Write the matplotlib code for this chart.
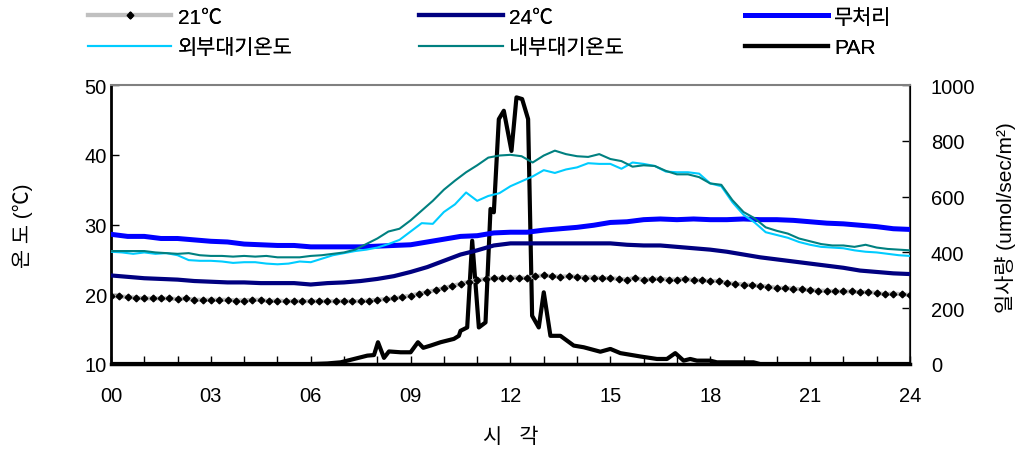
import numpy as np
import matplotlib
matplotlib.use("Agg")
import matplotlib.pyplot as plt
from matplotlib.ticker import MultipleLocator, FixedLocator

plt.rcParams['font.family'] = ['Liberation Sans Narrow', 'Liberation Sans', 'Noto Sans CJK KR', 'DejaVu Sans']

# ---- data ----
# 30-min series
t30 = np.arange(0, 24.01, 0.5)
untreated = [28.6, 28.3, 28.3, 28.0, 28.0, 27.8, 27.6, 27.5, 27.2, 27.1,
             27.0, 27.0, 26.8, 26.8, 26.8, 26.8, 26.9, 27.0, 27.1, 27.5,
             27.9, 28.3, 28.4, 28.8, 28.9, 28.9, 29.2, 29.4, 29.6, 29.9,
             30.3, 30.4, 30.7, 30.8, 30.7, 30.8, 30.7, 30.7, 30.8, 30.7,
             30.7, 30.6, 30.4, 30.2, 30.1, 29.9, 29.7, 29.4, 29.3]
set24 = [22.7, 22.5, 22.3, 22.2, 22.1, 21.9, 21.8, 21.7, 21.7, 21.6,
         21.6, 21.6, 21.4, 21.6, 21.7, 21.9, 22.2, 22.6, 23.2, 23.9,
         24.8, 25.7, 26.3, 27.0, 27.3, 27.3, 27.3, 27.3, 27.3, 27.3,
         27.3, 27.1, 27.0, 27.0, 26.8, 26.6, 26.4, 26.1, 25.7, 25.3,
         25.0, 24.7, 24.4, 24.1, 23.8, 23.4, 23.2, 23.0, 22.9]

# 15-min series
t15 = np.arange(0, 24.01, 0.25)
set21 = [19.7, 19.7, 19.6, 19.5, 19.4, 19.4, 19.4, 19.4, 19.3, 19.4, 19.2, 19.2,
         19.2, 19.2, 19.2, 19.1, 19.1, 19.2, 19.2, 19.0, 19.1, 19.0, 19.0, 19.0,
         19.0, 19.0, 19.0, 19.0, 19.0, 19.0, 19.0, 19.1, 19.2, 19.3, 19.4, 19.6,
         19.8, 20.1, 20.3, 20.6, 20.9, 21.2, 21.5, 21.8, 22.0, 22.2, 22.3, 22.3,
         22.4, 22.4, 22.3, 22.6, 22.7, 22.6, 22.5, 22.6, 22.5, 22.4, 22.4, 22.3,
         22.3, 22.2, 22.1, 22.4, 22.0, 22.2, 22.2, 22.1, 22.1, 22.2, 22.0, 22.0,
         21.9, 21.9, 21.6, 21.5, 21.4, 21.3, 21.2, 21.1, 20.9, 20.9, 20.8, 20.7,
         20.6, 20.5, 20.5, 20.4, 20.4, 20.4, 20.3, 20.3, 20.2, 20.0, 20.1, 20.0,
         19.9]

# 20-min series
t20 = np.linspace(0, 24, 73)
outside = [26.1, 26.0, 25.8, 26.0, 25.8, 25.9, 25.6, 24.9, 24.8, 24.8, 24.7, 24.5,
           24.6, 24.6, 24.4, 24.3, 24.4, 24.7, 24.6, 25.1, 25.6, 25.9, 26.2, 26.4,
           26.7, 27.2, 27.8, 29.0, 30.2, 30.1, 31.8, 32.9, 34.6, 33.4, 34.1, 34.5,
           35.5, 36.2, 36.9, 37.8, 37.4, 37.9, 38.2, 38.8, 38.7, 38.7, 38.0, 38.9,
           38.7, 38.4, 37.6, 37.5, 37.5, 37.3, 35.9, 35.5, 33.2, 31.4, 30.3, 28.9,
           28.5, 28.1, 27.5, 27.1, 26.8, 26.7, 26.6, 26.3, 26.1, 26.0, 25.8, 25.6,
           25.5]
inside = [26.2, 26.2, 26.2, 26.2, 26.0, 25.9, 25.8, 25.9, 25.6, 25.5, 25.5, 25.4,
          25.5, 25.4, 25.5, 25.3, 25.3, 25.3, 25.5, 25.6, 25.8, 26.0, 26.4, 27.2,
          28.0, 29.0, 29.4, 30.6, 32.0, 33.4, 35.0, 36.3, 37.5, 38.5, 39.6, 39.9,
          40.0, 39.8, 38.9, 39.9, 40.6, 40.1, 39.8, 39.7, 40.1, 39.4, 39.1, 38.3,
          38.5, 38.4, 37.7, 37.2, 37.2, 36.8, 35.9, 35.7, 33.5, 31.8, 30.9, 29.6,
          29.1, 28.7, 28.0, 27.6, 27.2, 27.0, 27.0, 26.8, 27.1, 26.7, 26.5, 26.4,
          26.3]

# PAR (umol/sec/m2)
t_par = [0, 6.0, 6.5, 6.9, 7.3, 7.7, 7.9, 8.02, 8.2, 8.35, 8.7, 9.0, 9.22, 9.38,
         9.6, 9.9, 10.3, 10.45, 10.5, 10.7, 10.85, 11.05, 11.25, 11.4, 11.5, 11.65,
         11.8, 12.03, 12.18, 12.35, 12.53, 12.65, 12.85, 13.0, 13.2, 13.5, 13.9,
         14.2, 14.7, 15.0, 15.3, 15.9, 16.4, 16.7, 16.95, 17.2, 17.4, 17.6, 18.0,
         18.2, 19.3, 19.5, 24]
par = [0, 0, 2, 6, 18, 30, 32, 78, 22, 45, 42, 42, 78, 58,
       66, 78, 90, 101, 119, 131, 442, 131, 149, 556, 544, 878,
       908, 764, 956, 950, 878, 173, 131, 257, 101, 101, 66,
       60, 44, 54, 39, 27, 18, 18, 39, 12, 18, 12, 12,
       6, 6, 0, 0]

xtick_labels = ['00', '03', '06', '09', '12', '15', '18', '21', '24']

# ---- figure ----
fig = plt.figure(figsize=(10.23, 4.52), dpi=100)
ax = fig.add_axes([0.1085, 0.1925, 0.781, 0.617])
ax2 = ax.twinx()

l21, = ax.plot(t15, set21, color='#C0C0C0', lw=3, marker='D', ms=3.4,
               mfc='black', mec='black', zorder=3)
l24, = ax.plot(t30, set24, color='#000080', lw=3, zorder=4)
lun, = ax.plot(t30, untreated, color='#0000FF', lw=3.6, zorder=4)
lout, = ax.plot(t20, outside, color='#00CCFF', lw=1.5, zorder=5)
lin, = ax.plot(t20, inside, color='#008080', lw=1.5, zorder=5)
lpar, = ax2.plot(t_par, par, color='black', lw=3, zorder=6)

ax.set_xlim(0, 24)
ax.set_ylim(10, 50)
ax2.set_ylim(0, 1000)
ax.xaxis.set_major_locator(FixedLocator(range(0, 25, 3)))
ax.xaxis.set_minor_locator(MultipleLocator(1))
ax.set_xticklabels(xtick_labels)
ax.yaxis.set_major_locator(MultipleLocator(10))
ax2.yaxis.set_major_locator(MultipleLocator(200))

for a in (ax, ax2):
    a.tick_params(which='both', direction='in', labelsize=14.5, length=6, width=1)
ax.tick_params(axis='x', pad=16)
ax.tick_params(axis='y', pad=3)
ax2.tick_params(axis='y', pad=15)

ax.spines['left'].set_linewidth(2)
ax.spines['bottom'].set_linewidth(2.5)
ax.spines['top'].set_color('#808080')
ax.spines['top'].set_linewidth(1.5)
ax2.spines['top'].set_visible(False)
ax2.spines['left'].set_visible(False)
ax2.spines['bottom'].set_visible(False)
ax2.spines['right'].set_color('#404040')
ax2.spines['right'].set_linewidth(1.5)
ax.set_zorder(ax2.get_zorder() + 1)
ax.patch.set_visible(False)

ax.set_ylabel('온 도 (℃)', fontsize=15, va='center')
ax.yaxis.set_label_coords(-0.111, 0.5)
ax2.set_ylabel('일사량 (umol/sec/m²)', fontsize=15, va='center', rotation=90)
ax2.yaxis.set_label_coords(1.119, 0.53)
ax.set_xlabel('시   각', fontsize=15, va='center')
ax.xaxis.set_label_coords(0.5, -0.258)

# legend: three columns placed where the reference has them
columns = [([l21, lout], ['21℃', '외부대기온도'], 0.086),
           ([l24, lin], ['24℃', '내부대기온도'], 0.410),
           ([lun, lpar], ['무처리', 'PAR'], 0.728)]
for hs, labs, xpos in columns:
    leg = fig.legend(hs, labs, loc='upper left', bbox_to_anchor=(xpos, 0.981),
                     frameon=False, fontsize=15, handlelength=4.0, handletextpad=0.3,
                     labelspacing=0.55, borderpad=0, borderaxespad=0)
    fig.add_artist(leg)

fig.savefig('out.png', dpi=100)
